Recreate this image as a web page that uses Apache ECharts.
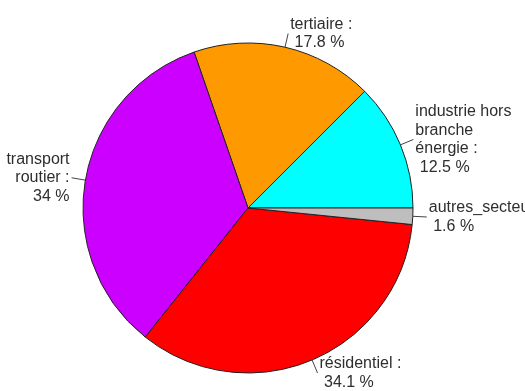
<!DOCTYPE html>
<html>
<head>
<meta charset="utf-8">
<script src="https://cdn.jsdelivr.net/npm/echarts@6/dist/echarts.min.js"></script>
<style>
html,body{margin:0;padding:0;background:#fff;}
#chart{width:525px;height:391px;}
</style>
</head>
<body>
<div id="chart"></div>
<script>
// Data (order as drawn by R's pie: counter-clockwise from 3 o'clock)
const categories = ['industrie hors\nbranche\nénergie', 'tertiaire', 'transport\nroutier', 'résidentiel', 'autres_secteurs'];
const values = [12.5, 17.8, 34, 34.1, 1.6];
const palette = ['#00FFFF', '#FF9900', '#CC00FF', '#FF0000', '#BEBEBE'];

const chart = echarts.init(document.getElementById('chart'), null, {renderer: 'canvas'});
chart.setOption({
  animation: false,
  backgroundColor: '#ffffff',
  series: [{
    type: 'pie',
    center: [248, 208],
    radius: [0, 165],
    startAngle: 0,
    clockwise: false,
    avoidLabelOverlap: false,
    silent: true,
    data: categories.map((c, i) => ({name: c, value: values[i], itemStyle: {color: palette[i]}})),
    itemStyle: {borderColor: '#222', borderWidth: 1},
    label: {
      show: true,
      position: 'outside',
      formatter: p => p.name + ' :\n ' + p.value + ' %',
      fontFamily: 'Liberation Sans, Arial, sans-serif',
      fontSize: 16,
      lineHeight: 18.5,
      color: '#2e2e2e',
      width: 220,
      overflow: 'none',
      distanceToLabelLine: 2
    },
    labelLine: {
      show: true,
      length: 14,
      length2: 0,
      smooth: false,
      lineStyle: {color: '#444', width: 1}
    }
  }]
});
</script>
</body>
</html>
